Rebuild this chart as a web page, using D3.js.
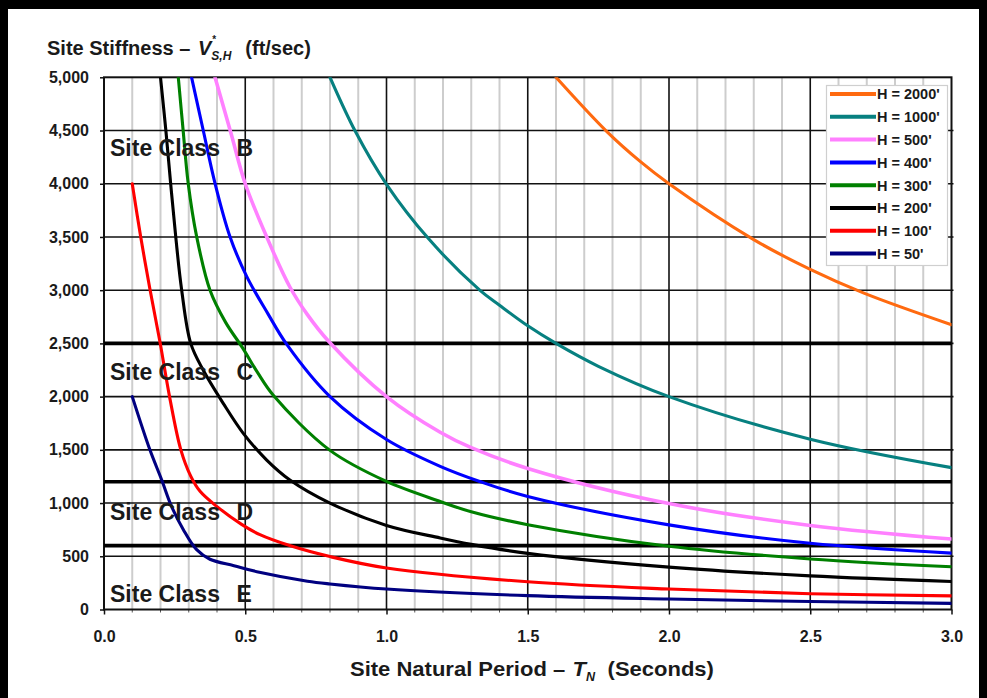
<!DOCTYPE html>
<html>
<head>
<meta charset="utf-8">
<script src="https://cdn.jsdelivr.net/npm/d3@7"></script>
<style>
  html, body { margin: 0; padding: 0; background: #fff; }
  svg { display: block; font-family: "Liberation Sans", Arial, sans-serif; font-weight: bold; }
</style>
</head>
<body>
<svg id="chart" width="987" height="698"></svg>
<script>
// ---- data -------------------------------------------------------------
// axis ticks
const periodTicks = [0, 0.5, 1.0, 1.5, 2.0, 2.5, 3.0];
const stiffnessTicks = [0, 500, 1000, 1500, 2000, 2500, 3000, 3500, 4000, 4500, 5000];

// site class boundaries (ft/sec) and class names from top to bottom
const siteClassBounds = [2500, 1200, 600];
const siteClassNames = ["B", "C", "D", "E"];

// soil column heights (ft), in legend order
const columnHeights = [2000, 1000, 500, 400, 300, 200, 100, 50];

// natural period T (s) and stiffness V (ft/sec) per column height
const periodH2000 = [1.6, 1.78, 1.9, 2.0, 2.3, 2.5, 2.69, 3.0];
const vsH2000     = [5000, 4490, 4205, 4000, 3475, 3195, 2972, 2675];

const periodH1000 = [0.8, 0.89, 1.0, 1.15, 1.33, 1.4, 1.5, 1.6, 1.75, 2.0, 2.5, 3.0];
const vsH1000     = [5000, 4490, 3995, 3480, 3000, 2858, 2665, 2500, 2285, 2000, 1600, 1333];

const periodH500 = [0.393, 0.45, 0.5, 0.576, 0.658, 0.72, 0.795, 1.0, 1.19, 1.3, 1.5, 2.0, 2.5, 3.0];
const vsH500     = [5000, 4470, 4000, 3500, 3030, 2770, 2520, 2000, 1665, 1520, 1325, 995, 790, 662];

const periodH400 = [0.31, 0.351, 0.393, 0.446, 0.505, 0.58, 0.647, 0.8, 1.0, 1.19, 1.33, 1.5, 2.0, 2.5, 3.0];
const vsH400     = [5000, 4505, 4004, 3503, 3130, 2780, 2490, 2000, 1597, 1345, 1203, 1062, 795, 622, 530];

const periodH300 = [0.263, 0.28, 0.298, 0.328, 0.375, 0.43, 0.49, 0.545, 0.6, 0.8, 1.0, 1.19, 1.3, 1.5, 2.0, 2.5, 3.0];
const vsH300     = [5000, 4505, 4004, 3503, 3002, 2700, 2460, 2220, 2010, 1495, 1203, 1015, 918, 797, 594, 475, 402];

const periodH200 = [0.2, 0.219, 0.236, 0.254, 0.275, 0.307, 0.351, 0.422, 0.493, 0.576, 0.658, 0.8, 1.0, 1.19, 1.3, 1.5, 2.0, 2.5, 3.0];
const vsH200     = [5000, 4500, 4000, 3500, 3000, 2500, 2250, 1937, 1655, 1404, 1217, 1000, 790, 672, 612, 527, 398, 316, 263];

const periodH100 = [0.1, 0.13, 0.162, 0.198, 0.232, 0.272, 0.307, 0.34, 0.399, 0.487, 0.552, 0.66, 0.8, 1.0, 1.5, 2.0, 2.5, 3.0];
const vsH100     = [4000, 3500, 3018, 2516, 2000, 1500, 1253, 1110, 969, 800, 703, 598, 497, 390, 260, 192, 148, 128];

const periodH50 = [0.1, 0.1625, 0.204, 0.239, 0.281, 0.328, 0.375, 0.46, 0.55, 0.72, 0.8, 1.0, 1.5, 2.0, 2.5, 3.0];
const vsH50     = [2000, 1500, 1219, 969, 750, 562, 472, 412, 350, 266, 240, 192, 130, 98, 75, 58];

// ---- styling ------------------------------------------------------------
const seriesColors = ["#ff6a10", "#078080", "#ff80ff", "#0000ff", "#008000", "#000000", "#ff0000", "#000080"];

const periods = [periodH2000, periodH1000, periodH500, periodH400, periodH300, periodH200, periodH100, periodH50];
const speeds  = [vsH2000, vsH1000, vsH500, vsH400, vsH300, vsH200, vsH100, vsH50];

const series = columnHeights.map((h, i) => ({
  label: `H = ${h}'`,
  color: seriesColors[i],
  points: periods[i].map((t, j) => ({ t, v: speeds[i][j] }))
}));

// ---- layout -------------------------------------------------------------
const svg = d3.select("#chart");
const plot = { left: 104, right: 951.5, top: 77.3, bottom: 609.5 };

const x = d3.scaleLinear().domain([0, 3]).range([plot.left, plot.right]);
const y = d3.scaleLinear().domain([0, 5000]).range([plot.bottom, plot.top]);

svg.append("rect").attr("width", 987).attr("height", 698).attr("fill", "#fff");

// outer frame bars
svg.append("rect").attr("x", 0).attr("y", 0).attr("width", 987).attr("height", 9).attr("fill", "#000");
svg.append("rect").attr("x", 0).attr("y", 0).attr("width", 8).attr("height", 698).attr("fill", "#000");
svg.append("rect").attr("x", 979).attr("y", 0).attr("width", 8).attr("height", 698).attr("fill", "#000");

// minor period gridlines every 0.1 s
const minorPeriods = d3.range(1, 30).filter(i => i % 5 !== 0).map(i => i / 10);
svg.append("g").selectAll("line").data(minorPeriods).join("line")
  .attr("x1", d => x(d)).attr("x2", d => x(d))
  .attr("y1", plot.top).attr("y2", plot.bottom)
  .attr("stroke", "#cdcdcd").attr("stroke-width", 2);

// minor ticks below the axis
svg.append("g").selectAll("line").data(minorPeriods).join("line")
  .attr("x1", d => x(d)).attr("x2", d => x(d))
  .attr("y1", plot.bottom).attr("y2", plot.bottom + 3)
  .attr("stroke", "#555").attr("stroke-width", 1);

// major gridlines
svg.append("g").selectAll("line").data(periodTicks.slice(1, -1)).join("line")
  .attr("x1", d => x(d)).attr("x2", d => x(d))
  .attr("y1", plot.top).attr("y2", plot.bottom)
  .attr("stroke", "#111").attr("stroke-width", 1.6);

svg.append("g").selectAll("line").data(stiffnessTicks.slice(1, -1)).join("line")
  .attr("x1", plot.left).attr("x2", plot.right + 2)
  .attr("y1", d => y(d)).attr("y2", d => y(d))
  .attr("stroke", "#111").attr("stroke-width", 1.6);

// plot frame
svg.append("rect")
  .attr("x", plot.left).attr("y", plot.top)
  .attr("width", plot.right - plot.left).attr("height", plot.bottom - plot.top)
  .attr("fill", "none").attr("stroke", "#111").attr("stroke-width", 2);

// site class boundaries
svg.append("g").selectAll("line").data(siteClassBounds).join("line")
  .attr("x1", plot.left).attr("x2", plot.right)
  .attr("y1", d => y(d)).attr("y2", d => y(d))
  .attr("stroke", "#000").attr("stroke-width", 3.6);

// axes
const yAxis = svg.append("g")
  .attr("transform", `translate(${plot.left},0)`)
  .call(d3.axisLeft(y).tickValues(stiffnessTicks).tickFormat(d3.format(",")).tickSize(4).tickPadding(11));
const xAxis = svg.append("g")
  .attr("transform", `translate(0,${plot.bottom})`)
  .call(d3.axisBottom(x).tickValues(periodTicks).tickFormat(d3.format(".1f")).tickSize(5).tickPadding(14));
[yAxis, xAxis].forEach(a => {
  a.select(".domain").remove();
  a.selectAll(".tick line").attr("stroke", "#111").attr("stroke-width", 1.5);
  a.selectAll(".tick text")
    .attr("fill", "#1a1a1a")
    .style("font-family", "'Liberation Sans', Arial, sans-serif")
    .style("font-weight", "bold")
    .style("font-size", "16px");
});
xAxis.selectAll(".tick text").attr("transform", "scale(1,1.08)");

// curves
svg.append("clipPath").attr("id", "plotClip")
  .append("rect")
  .attr("x", plot.left).attr("y", plot.top)
  .attr("width", plot.right - plot.left).attr("height", plot.bottom - plot.top);

const line = d3.line()
  .x(d => x(d.t))
  .y(d => y(d.v))
  .curve(d3.curveCatmullRom.alpha(0.5));

svg.append("g").attr("clip-path", "url(#plotClip)")
  .selectAll("path").data(series.slice().reverse()).join("path")
  .attr("d", d => line(d.points))
  .attr("fill", "none")
  .attr("stroke", d => d.color)
  .attr("stroke-width", d => d.color === "#ff80ff" ? 3.6 : 3.1)
  .attr("stroke-linejoin", "round")
  .attr("stroke-linecap", "round");

// site class labels
const classBaselines = [155.7, 380, 520, 601.7];
const classLabels = svg.append("g").attr("fill", "#1a1a1a")
  .style("font-size", "23px");
siteClassNames.forEach((name, i) => {
  classLabels.append("text").attr("x", 110).attr("y", classBaselines[i]).text("Site Class");
  classLabels.append("text").attr("x", 236.5).attr("y", classBaselines[i]).text(name);
});

// rich text helper: places pieces one after another, measuring each
function richText(g, x0, y0, pieces) {
  let cx = x0;
  pieces.forEach(p => {
    if (p.stack) {
      let w = 0;
      p.stack.forEach(s => {
        const t = g.append("text")
          .attr("x", cx + (s.dx || 0)).attr("y", y0 + s.dy)
          .style("font-size", s.size + "px")
          .style("font-style", s.italic ? "italic" : "normal")
          .text(s.text);
        w = Math.max(w, t.node().getComputedTextLength() + (s.dx || 0));
      });
      cx += w + (p.after || 0);
    } else {
      const t = g.append("text")
        .attr("x", cx).attr("y", y0)
        .style("font-size", p.size + "px")
        .style("font-style", p.italic ? "italic" : "normal")
        .style("white-space", "pre")
        .text(p.text);
      cx += t.node().getComputedTextLength() + (p.after || 0);
    }
  });
  return cx - x0;
}

// y-axis title
const yTitle = svg.append("g").attr("fill", "#1a1a1a");
richText(yTitle, 47, 55, [
  { text: "Site Stiffness ", size: 20 },
  { text: "\u2013 ", size: 20, after: 2 },
  { text: "V", size: 20, italic: true, after: 0 },
  { stack: [
      { text: "*", size: 10, dy: -12, dx: 1 },
      { text: "S,H", size: 12, italic: true, dy: 5, dx: 0 }
    ], after: 14 },
  { text: "(ft/sec)", size: 20 }
]);

// x-axis title, stretched to its measured span
const xTitle = svg.append("g").attr("fill", "#1a1a1a");
const xTitleWidth = richText(xTitle, 0, 0, [
  { text: "Site Natural Period ", size: 21 },
  { text: "\u2013 ", size: 21, after: 1 },
  { text: "T", size: 21, italic: true, after: 0 },
  { stack: [{ text: "N", size: 12, italic: true, dy: 5, dx: 0 }], after: 12 },
  { text: "(Seconds)", size: 21 }
]);
const xTitleSpan = 364;
xTitle.attr("transform", `translate(350,676) scale(${xTitleSpan / xTitleWidth},1)`);

// legend
const legend = svg.append("g");
legend.append("rect")
  .attr("x", 826.5).attr("y", 85.5).attr("width", 121).attr("height", 180)
  .attr("fill", "#fff").attr("stroke", "#cfcfcf").attr("stroke-width", 1.2);
const rowY = i => 94 + i * 22.8;
series.forEach((s, i) => {
  legend.append("line")
    .attr("x1", 830).attr("x2", 876)
    .attr("y1", rowY(i)).attr("y2", rowY(i))
    .attr("stroke", s.color).attr("stroke-width", 4);
  legend.append("text")
    .attr("x", 877).attr("y", rowY(i) + 5.3)
    .attr("fill", "#1a1a1a")
    .style("font-size", "14.5px")
    .text(s.label);
});
</script>
</body>
</html>
